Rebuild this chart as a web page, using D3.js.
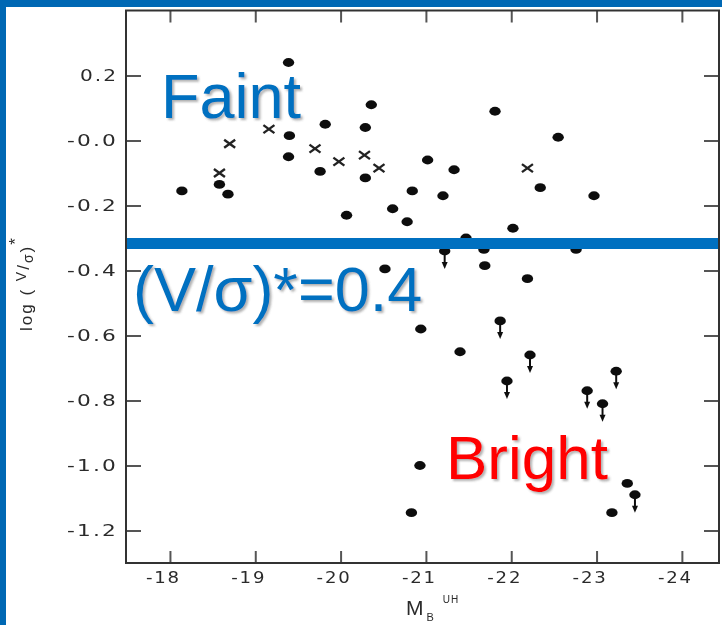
<!DOCTYPE html>
<html>
<head>
<meta charset="utf-8">
<script src="https://cdn.jsdelivr.net/npm/d3@7"></script>
<style>
  html, body { margin: 0; padding: 0; background: #fff; }
  svg { display: block; }
</style>
</head>
<body>
<div id="chart"></div>
<script>
// Absolute blue magnitude vs. log (V/sigma)* for elliptical galaxies

// Filled circles: measured values
const dotMag = [-19.39, -20.36, -19.82, -20.29, -19.40, -19.39, -21.02, -19.76, -20.29, -18.58,
                -18.68, -18.14, -20.84, -20.61, -20.78, -20.07, -20.52, -21.81, -22.55, -21.33,
                -21.20, -22.34, -22.97, -22.02, -21.47, -21.68, -21.69, -22.76, -22.19, -20.94,
                -21.40, -20.93, -23.36, -20.83, -23.18];
const dotLogV = [0.24, 0.11, 0.05, 0.04, 0.015, -0.05, -0.06, -0.095, -0.115, -0.135,
                 -0.165, -0.155, -0.155, -0.21, -0.25, -0.23, -0.395, 0.09, 0.01, -0.09,
                 -0.17, -0.145, -0.17, -0.27, -0.30, -0.335, -0.385, -0.335, -0.425, -0.58,
                 -0.65, -1.00, -1.055, -1.145, -1.145];

// Filled circles with downward arrows: upper limits
const limitMag = [-21.22, -21.87, -22.22, -21.95, -23.23, -22.89, -23.07, -23.45];
const limitLogV = [-0.34, -0.555, -0.66, -0.74, -0.71, -0.77, -0.81, -1.09];

// Crosses: second sample
const crossMag = [-19.16, -18.70, -19.70, -20.28, -19.98, -20.45, -18.58, -22.19];
const crossLogV = [0.035, -0.01, -0.025, -0.045, -0.065, -0.085, -0.10, -0.085];

// Axis ticks
const xTicks = [-18, -19, -20, -21, -22, -23, -24];
const xTickLabels = ["-18", "-19", "-20", "-21", "-22", "-23", "-24"];
const yTicks = [0.2, 0.0, -0.2, -0.4, -0.6, -0.8, -1.0, -1.2];
const yTickLabels = ["0.2", "-0.0", "-0.2", "-0.4", "-0.6", "-0.8", "-1.0", "-1.2"];

// Dividing line between the two regimes, in log units
const dividerLogV = -0.317;

const W = 722, H = 625;
const svg = d3.select("#chart").append("svg").attr("width", W).attr("height", H);

const defs = svg.append("defs");
const shadow = defs.append("filter").attr("id", "shadow")
  .attr("x", "-10%").attr("y", "-10%").attr("width", "130%").attr("height", "140%");
shadow.append("feDropShadow").attr("dx", 2).attr("dy", 2).attr("stdDeviation", 1.2)
  .attr("flood-color", "#555").attr("flood-opacity", 0.45);
const soft = defs.append("filter").attr("id", "soft");
soft.append("feGaussianBlur").attr("stdDeviation", 0.45);

// slide frame
svg.append("rect").attr("width", W).attr("height", H).attr("fill", "#fff");
svg.append("rect").attr("x", 0).attr("y", 0).attr("width", W).attr("height", 7).attr("fill", "#0068b4");
svg.append("rect").attr("x", 0).attr("y", 0).attr("width", 6).attr("height", H).attr("fill", "#0068b4");

const x = d3.scaleLinear().domain([-17.485, -24.435]).range([126, 719]);
const y = d3.scaleLinear().domain([0.4, -1.3]).range([10.5, 563]);

const plot = svg.append("g").attr("filter", "url(#soft)");

const axisColor = "#333";
const tickColor = "#555";
const labelFont = "'DejaVu Sans', 'Liberation Sans', sans-serif";
const titleFont = "'Liberation Sans', Arial, sans-serif";

function styleAxis(g) {
  g.select(".domain").remove();
  g.selectAll(".tick line").attr("stroke", tickColor).attr("stroke-width", 2);
  g.selectAll(".tick text").attr("fill", "#2a2a2a").style("font-family", labelFont)
    .style("font-size", "15px").style("letter-spacing", "1.5px");
}

// bottom axis
plot.append("g").attr("transform", `translate(0,${y.range()[1]})`)
  .call(d3.axisBottom(x).tickValues(xTicks).tickSizeInner(-12).tickSizeOuter(0).tickPadding(9)
    .tickFormat((d, i) => xTickLabels[i]))
  .call(styleAxis)
  .call(g => g.selectAll(".tick text").attr("dx", "-7")
    .attr("textLength", 35).attr("lengthAdjust", "spacingAndGlyphs"));

// top axis
plot.append("g").attr("transform", `translate(0,${y.range()[0]})`)
  .call(d3.axisTop(x).tickValues(xTicks).tickSizeInner(-12).tickSizeOuter(0).tickFormat(""))
  .call(styleAxis);

// left axis
plot.append("g").attr("transform", `translate(${x.range()[0]},0)`)
  .call(d3.axisLeft(y).tickValues(yTicks).tickSizeInner(-15).tickSizeOuter(0).tickPadding(8)
    .tickFormat((d, i) => yTickLabels[i]))
  .call(styleAxis)
  .call(g => g.selectAll(".tick text")
    .attr("textLength", (d, i) => yTickLabels[i].length * 13 - 1)
    .attr("lengthAdjust", "spacingAndGlyphs"));

// right axis
plot.append("g").attr("transform", `translate(${x.range()[1]},0)`)
  .call(d3.axisRight(y).tickValues(yTicks).tickSizeInner(-15).tickSizeOuter(0).tickFormat(""))
  .call(styleAxis);

// plot frame
plot.append("rect")
  .attr("x", x.range()[0]).attr("y", y.range()[0])
  .attr("width", x.range()[1] - x.range()[0]).attr("height", y.range()[1] - y.range()[0])
  .attr("fill", "none").attr("stroke", axisColor).attr("stroke-width", 2);

// axis titles
const xt = plot.append("text").attr("x", 406).attr("y", 615)
  .attr("fill", "#2a2a2a").style("font-family", titleFont).style("font-size", "21px");
xt.append("tspan").text("M");
xt.append("tspan").attr("dx", 3).attr("dy", 6).style("font-size", "11px").text("B");
xt.append("tspan").attr("dx", 9).attr("dy", -18).style("font-size", "10px")
  .style("letter-spacing", "1px").text("UH");

const yt = plot.append("text")
  .attr("transform", "translate(32,331) rotate(-90)")
  .attr("fill", "#2a2a2a").style("font-family", titleFont).style("font-size", "17px")
  .style("letter-spacing", "2px");
yt.append("tspan").text("log ( ");
yt.append("tspan").attr("dy", -6).style("font-size", "14px").text("V");
yt.append("tspan").attr("dy", 3).text("/");
yt.append("tspan").attr("dy", 4).style("font-size", "14px").text("σ");
yt.append("tspan").attr("dy", -1).text(")");
yt.append("tspan").attr("dy", -11).style("font-size", "17px").text("*");

// data marks
const ink = "#111";
const dots = d3.zip(dotMag, dotLogV);
plot.append("g").selectAll("ellipse").data(dots).join("ellipse")
  .attr("cx", d => x(d[0])).attr("cy", d => y(d[1]))
  .attr("rx", 5.7).attr("ry", 4.4).attr("fill", ink);

const limits = d3.zip(limitMag, limitLogV);
const lg = plot.append("g").selectAll("g").data(limits).join("g")
  .attr("transform", d => `translate(${x(d[0])},${y(d[1])})`);
lg.append("ellipse").attr("rx", 5.7).attr("ry", 4.4).attr("fill", ink);
lg.append("line").attr("x1", 0).attr("y1", 0).attr("x2", 0).attr("y2", 12)
  .attr("stroke", ink).attr("stroke-width", 2);
lg.append("path").attr("d", "M-3,11 L3,11 L0,18 Z").attr("fill", ink);

const crosses = d3.zip(crossMag, crossLogV);
plot.append("g").selectAll("path").data(crosses).join("path")
  .attr("d", d => {
    const cx = x(d[0]), cy = y(d[1]);
    return `M${cx - 5.5},${cy - 4}L${cx + 5.5},${cy + 4}M${cx - 5.5},${cy + 4}L${cx + 5.5},${cy - 4}`;
  })
  .attr("stroke", "#222").attr("stroke-width", 2.4).attr("fill", "none");

// divider line
svg.append("line")
  .attr("x1", x.range()[0] + 1).attr("x2", 718)
  .attr("y1", y(dividerLogV)).attr("y2", y(dividerLogV))
  .attr("stroke", "#0070c0").attr("stroke-width", 11);

// annotations
const annFont = "'Liberation Sans', Arial, sans-serif";
svg.append("text").attr("x", 161).attr("y", 118).attr("fill", "#0070c0")
  .attr("filter", "url(#shadow)")
  .style("font-family", annFont).style("font-size", "63px").text("Faint");

svg.append("text").attr("x", 133).attr("y", 311).attr("fill", "#0070c0")
  .attr("filter", "url(#shadow)")
  .style("font-family", annFont).style("font-size", "63px").text("(V/σ)*=0.4");

svg.append("text").attr("x", 446).attr("y", 479).attr("fill", "#ff0000")
  .attr("filter", "url(#shadow)")
  .style("font-family", annFont).style("font-size", "62px").text("Bright");
</script>
</body>
</html>
